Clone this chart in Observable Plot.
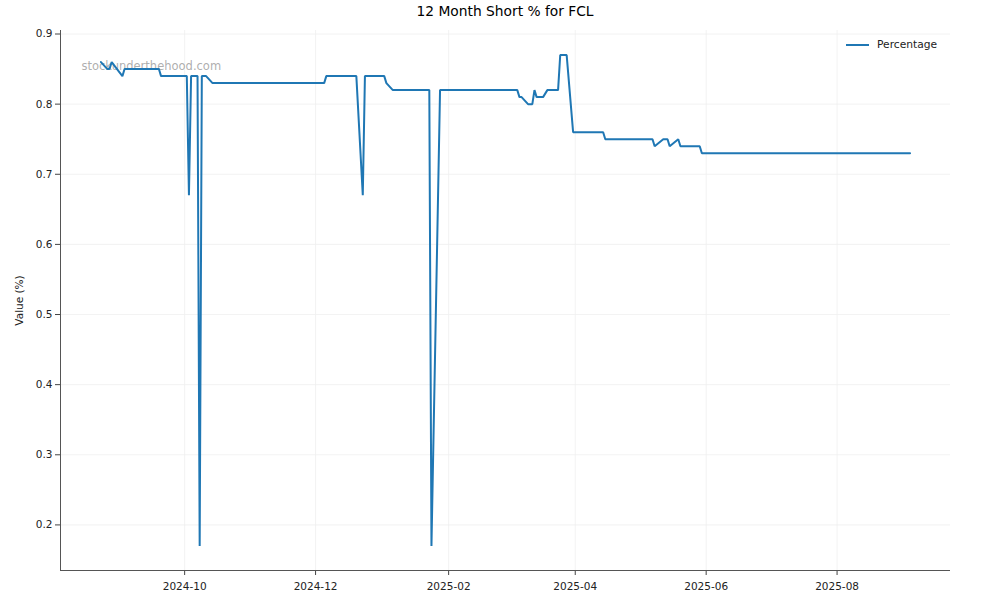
<!DOCTYPE html>
<html>
<head>
<meta charset="utf-8">
<script src="https://cdn.jsdelivr.net/npm/d3@7"></script>
<script src="https://cdn.jsdelivr.net/npm/@observablehq/plot@0.6"></script>
<style>
  html, body { margin: 0; padding: 0; background: #fff; }
  #wrap { position: relative; width: 1000px; height: 600px; font-family: "DejaVu Sans", sans-serif; }
  #title { position: absolute; left: 60px; width: 890px; top: 3px; text-align: center; font-size: 13.8px; color: #000; }
  #chart { position: absolute; left: 0; top: 0; }
  #legend { position: absolute; left: 846px; top: 38px; font-size: 10.7px; color: #222; display: flex; align-items: center; }
  #legend .sw { width: 23px; height: 2px; background: #1f77b4; margin-right: 8px; }
</style>
</head>
<body>
<div id="wrap">
  <div id="chart"></div>
  <div id="title">12 Month Short % for FCL</div>
  <div id="legend"><span class="sw"></span><span>Percentage</span></div>
</div>
<script>
const dates = [
  "2024-08-23","2024-08-26","2024-08-27","2024-08-28","2024-09-02","2024-09-03",
  "2024-09-19","2024-09-20","2024-10-02","2024-10-03","2024-10-04","2024-10-07",
  "2024-10-08","2024-10-09","2024-10-11","2024-10-14","2024-12-05","2024-12-06",
  "2024-12-20","2024-12-23","2024-12-24","2025-01-02","2025-01-03","2025-01-06",
  "2025-01-23","2025-01-24","2025-01-28","2025-03-05","2025-03-06","2025-03-07",
  "2025-03-10","2025-03-12","2025-03-13","2025-03-14","2025-03-17","2025-03-19",
  "2025-03-24","2025-03-25","2025-03-28","2025-03-31","2025-04-14","2025-04-15",
  "2025-05-07","2025-05-08","2025-05-12","2025-05-14","2025-05-15","2025-05-19",
  "2025-05-20","2025-05-29","2025-05-30","2025-09-04"
];
const values = [
  0.86,0.85,0.85,0.86,0.84,0.85,
  0.85,0.84,0.84,0.67,0.84,0.84,
  0.17,0.84,0.84,0.83,0.83,0.84,
  0.84,0.67,0.84,0.84,0.83,0.82,
  0.82,0.17,0.82,0.82,0.81,0.81,
  0.80,0.80,0.82,0.81,0.81,0.82,
  0.82,0.87,0.87,0.76,0.76,0.75,
  0.75,0.74,0.75,0.75,0.74,0.75,
  0.74,0.74,0.73,0.73
];
const xTickLabels = ["2024-10","2024-12","2025-02","2025-04","2025-06","2025-08"];
const yTicks = [0.2,0.3,0.4,0.5,0.6,0.7,0.8,0.9];
const seriesName = "Percentage";
const watermark = "stockunderthehood.com";

const parse = d3.utcParse("%Y-%m-%d");
const data = dates.map((d, i) => ({date: parse(d), value: values[i]}));
const xTicks = xTickLabels.map(s => parse(s + "-01"));

// matplotlib-style 5% margins
const [x0, x1] = d3.extent(data, d => d.date);
const xpad = (x1 - x0) * 0.05;
const xDomain = [new Date(+x0 - xpad), new Date(+x1 + xpad)];
const [y0, y1] = d3.extent(data, d => d.value);
const ypad = (y1 - y0) * 0.05;
const yDomain = [y0 - ypad, y1 + ypad];

const chart = Plot.plot({
  width: 1000,
  height: 600,
  marginLeft: 60,
  marginRight: 50,
  marginTop: 30,
  marginBottom: 30,
  style: {fontFamily: "DejaVu Sans, sans-serif", fontSize: "10.5px", color: "#222", background: "#fff"},
  x: {type: "utc", domain: xDomain},
  y: {domain: yDomain},
  marks: [
    Plot.gridX(xTicks, {stroke: "#efefef", strokeOpacity: 1, strokeWidth: 0.8}),
    Plot.gridY(yTicks, {stroke: "#efefef", strokeOpacity: 1, strokeWidth: 0.8}),
    Plot.axisX(xTicks, {tickSize: 5, tickPadding: 7, tickFormat: d3.utcFormat("%Y-%m"), label: null, stroke: "#444"}),
    Plot.axisY(yTicks, {tickSize: 5, tickPadding: 3, tickFormat: d3.format(".1f"), label: "Value (%)", labelAnchor: "center", labelArrow: "none", labelOffset: 45, stroke: "#444"}),
    Plot.ruleY([yDomain[0]], {stroke: "#555", strokeWidth: 1}),
    Plot.ruleX([xDomain[0]], {stroke: "#555", strokeWidth: 1}),
    Plot.text([watermark], {frameAnchor: "top-left", dx: 21, dy: 31, textAnchor: "start", fill: "#999", fillOpacity: 0.8, fontSize: 11.5}),
    Plot.line(data, {x: "date", y: "value", stroke: "#1f77b4", strokeWidth: 2, strokeLinejoin: "miter"})
  ]
});
document.getElementById("chart").appendChild(chart);
</script>
</body>
</html>
